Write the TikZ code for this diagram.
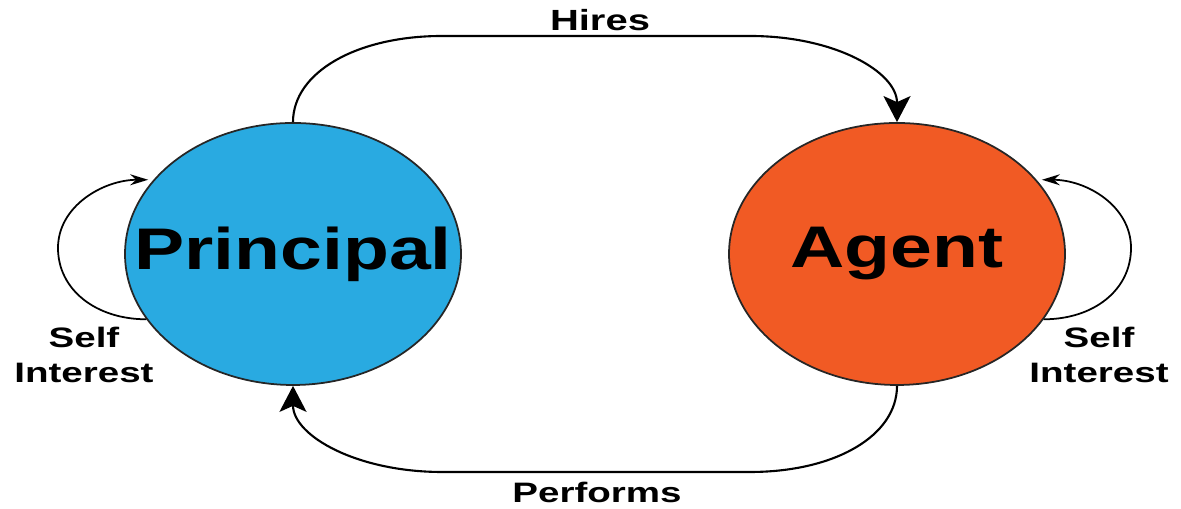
\documentclass[tikz,border=0pt]{standalone}
\usepackage{fontspec}
\setmainfont{Liberation Sans}[FakeStretch=1.28]
\newfontfamily\lblfont{Liberation Sans}[FakeStretch=1.37]
\usetikzlibrary{arrows.meta,shapes.geometric,positioning}
\definecolor{princblue}{RGB}{41,170,225}
\definecolor{agentorange}{RGB}{241,90,36}
\tikzset{
  party/.style={ellipse, draw=black!85, line width=0.5pt, minimum width=3.36cm, minimum height=2.62cm,
                inner sep=0pt, label={[font=\fontsize{16.7}{20}\selectfont\bfseries]center:#1}},
  link/.style={line width=0.6pt, -{Stealth[length=0.26cm,width=0.27cm,inset=0.06cm]}},
  selfloop/.style={line width=0.5pt, -{Stealth[length=0.18cm,width=0.11cm,inset=0.06cm]}, shorten >=1.5pt},
  lbl/.style={font=\lblfont\bfseries\fontsize{8}{10.2}\selectfont, align=center}
}

\begin{document}
\begin{tikzpicture}
     \useasboundingbox (0,0) rectangle (11.81,5.09);
     % the two parties
     \node[party=Principal, fill=princblue] (principal) at (2.93,2.55) {};
     \node[party=Agent, fill=agentorange] (agent) at (8.97,2.55) {};
     % rails of the two long arrows
     \coordinate (hireL) at (4.42,4.73);
     \coordinate (hireR) at (7.50,4.73);
     \coordinate (perfR) at (7.50,0.37);
     \coordinate (perfL) at (4.42,0.37);
     \draw[link] (principal.north) .. controls +(0,0.5) and +(-0.85,0) .. (hireL) -- (hireR)
                 .. controls +(0.85,0) and +(0,0.5) .. (agent.north);
     \draw[link] (agent.south) .. controls +(0,-0.5) and +(0.85,0) .. (perfR) -- (perfL)
                 .. controls +(-0.85,0) and +(0,-0.5) .. (principal.south);
     \node[lbl, anchor=base] (hires) at (6.0,4.78) {\fontsize{8.3}{10}\selectfont Hires};
     \node[lbl, anchor=base] (performs) at (5.97,0.06) {Performs};
     % self interest loops
     \coordinate (loopP) at (0.58,2.61);
     \coordinate (loopA) at (11.31,2.61);
     \draw[selfloop] (principal.204) .. controls +(-0.5,0) and +(0,-0.42) .. (loopP)
                     .. controls +(0,0.42) and +(-0.5,0) .. (principal.152);
     \draw[selfloop] (agent.-24) .. controls +(0.5,0) and +(0,-0.42) .. (loopA)
                     .. controls +(0,0.42) and +(0.5,0) .. (agent.28);
     \node[lbl] (selfP) at (0.84,1.54) {Self\\Interest};
     \node[lbl] (selfA) at (10.99,1.54) {Self\\Interest};
\end{tikzpicture}
\end{document}
